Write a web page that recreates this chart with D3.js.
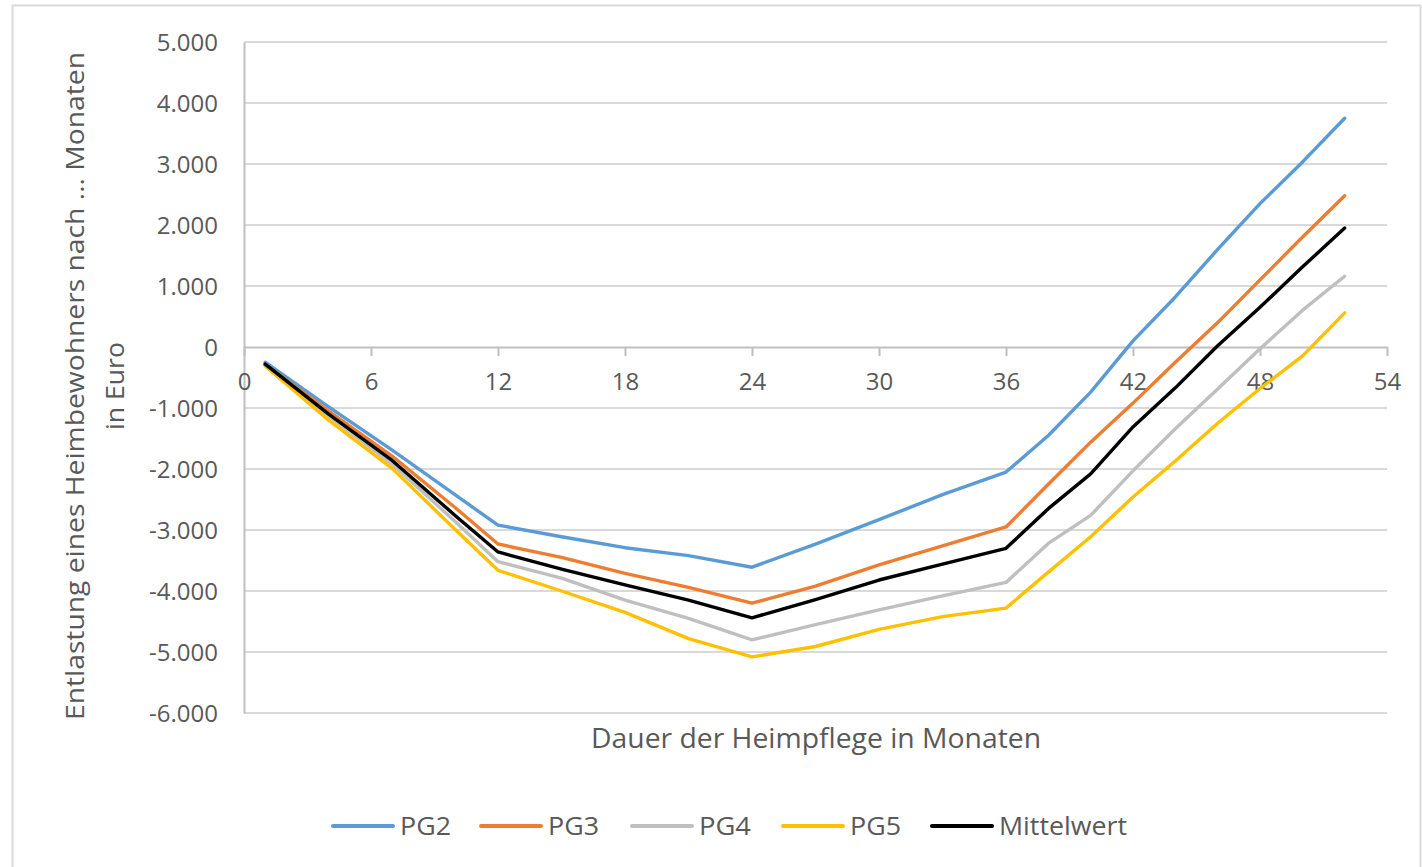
<!DOCTYPE html>
<html>
<head>
<meta charset="utf-8">
<script src="https://cdn.jsdelivr.net/npm/d3@7"></script>
<style>
body { margin: 0; background: #fff; }
text { font-family: "Open Sans", "DejaVu Sans", sans-serif; fill: #595959; }
</style>
</head>
<body>
<script>

const months = [1, 4, 7, 10, 12, 15, 18, 21, 24, 27, 30, 33, 36, 38, 40, 42, 44, 46, 48, 50, 52];

const pg2 = [-250, -980, -1690, -2430, -2920, -3110, -3290, -3420, -3610, -3230, -2830, -2420, -2050, -1450, -740, 100, 820, 1600, 2350, 3030, 3750];
const pg3 = [-290, -1050, -1790, -2640, -3230, -3450, -3710, -3940, -4200, -3920, -3570, -3260, -2950, -2250, -1560, -920, -250, 400, 1100, 1800, 2480];
const pg4 = [-300, -1130, -1920, -2870, -3520, -3790, -4150, -4450, -4800, -4550, -4310, -4080, -3860, -3220, -2760, -2030, -1340, -690, -30, 600, 1160];
const pg5 = [-310, -1200, -1990, -3000, -3660, -4000, -4350, -4780, -5080, -4910, -4630, -4420, -4280, -3690, -3110, -2460, -1870, -1250, -680, -150, 560];
const mittel = [-280, -1100, -1860, -2770, -3360, -3640, -3900, -4150, -4440, -4140, -3820, -3560, -3300, -2650, -2080, -1310, -670, 20, 650, 1310, 1950];

const seriesNames = ["PG2", "PG3", "PG4", "PG5", "Mittelwert"];
const seriesColors = ["#5B9BD5", "#ED7D31", "#BFBFBF", "#FFC000", "#000000"];
const seriesValues = [pg2, pg3, pg4, pg5, mittel];

const xTicks = [0, 6, 12, 18, 24, 30, 36, 42, 48, 54];
const yTicks = [5000, 4000, 3000, 2000, 1000, 0, -1000, -2000, -3000, -4000, -5000, -6000];

const W = 1422;
const H = 867;

const svg = d3.select("body")
.append("svg")
.attr("width", W)
.attr("height", H);

// chart frame
svg.append("rect")
.attr("x", 12.5)
.attr("y", 5.5)
.attr("width", 1408)
.attr("height", 870)
.attr("fill", "white")
.attr("stroke", "#D9D9D9")
.attr("stroke-width", 2);

const xScale = d3.scaleLinear()
.domain([0, 54])
.range([244, 1387]);

const yScale = d3.scaleLinear()
.domain([-6000, 5000])
.range([713, 42]);

const fmt = (d) => d3.format(",")(d).replace(/,/g, ".").replace("−", "-");

// gridlines
svg.append("g")
.selectAll("line")
.data(yTicks.filter(d => d != 0))
.enter()
.append("line")
.attr("x1", xScale(0))
.attr("x2", xScale(54))
.attr("y1", d => yScale(d))
.attr("y2", d => yScale(d))
.attr("stroke", "#D9D9D9")
.attr("stroke-width", 2);

// y axis
const yAxis = d3.axisLeft(yScale)
.tickValues(yTicks)
.tickSize(0)
.tickPadding(26)
.tickFormat(fmt);

const gy = svg.append("g")
.attr("transform", `translate(${xScale(0)},0)`)
.call(yAxis);
gy.select(".domain").attr("stroke", "#BFBFBF").attr("stroke-width", 2);
gy.selectAll("text").style("font-size", "24px").attr("dy", "0.35em");

// x axis sits on zero
const xAxis = d3.axisBottom(xScale)
.tickValues(xTicks)
.tickSize(9)
.tickPadding(17)
.tickSizeOuter(0);

const gx = svg.append("g")
.attr("transform", `translate(0,${yScale(0)})`)
.call(xAxis);
gx.select(".domain").attr("stroke", "#BFBFBF").attr("stroke-width", 2);
gx.selectAll(".tick line").attr("stroke", "#BFBFBF").attr("stroke-width", 2);
gx.selectAll("text").style("font-size", "24px");

// lines
const line = d3.line()
.x((d, i) => xScale(months[i]))
.y(d => yScale(d));

svg.append("g")
.selectAll("path")
.data(seriesValues)
.enter()
.append("path")
.attr("d", d => line(d))
.attr("fill", "none")
.attr("stroke", (d, i) => seriesColors[i])
.attr("stroke-width", 3.4)
.attr("stroke-linejoin", "round")
.attr("stroke-linecap", "round");

// axis titles
svg.append("text")
.text("Dauer der Heimpflege in Monaten")
.attr("x", 816)
.attr("y", 748)
.attr("text-anchor", "middle")
.attr("textLength", 450)
.attr("lengthAdjust", "spacingAndGlyphs")
.style("font-size", "27px");

svg.append("text")
.text("Entlastung eines Heimbewohners nach ... Monaten")
.attr("transform", `translate(84, 386) rotate(-90)`)
.attr("text-anchor", "middle")
.attr("textLength", 668)
.attr("lengthAdjust", "spacingAndGlyphs")
.style("font-size", "25px");

svg.append("text")
.text("in Euro")
.attr("transform", `translate(124, 386) rotate(-90)`)
.attr("text-anchor", "middle")
.attr("textLength", 88)
.attr("lengthAdjust", "spacingAndGlyphs")
.style("font-size", "25px");

// legend
const legendX = [333, 481, 632, 783, 932];
const legendLen = [51, 51, 52, 51, 128];
const legend = svg.append("g");

const items = legend.selectAll("g")
.data(seriesNames)
.enter()
.append("g")
.attr("transform", (d, i) => `translate(${legendX[i]},826)`);

items.append("line")
.attr("x1", 0)
.attr("x2", 60)
.attr("stroke", (d, i) => seriesColors[i])
.attr("stroke-width", 4)
.attr("stroke-linecap", "round");

items.append("text")
.text(d => d)
.attr("x", 67)
.attr("dy", "0.35em")
.attr("textLength", (d, i) => legendLen[i])
.attr("lengthAdjust", "spacingAndGlyphs")
.style("font-size", "25px");

</script>
</body>
</html>
